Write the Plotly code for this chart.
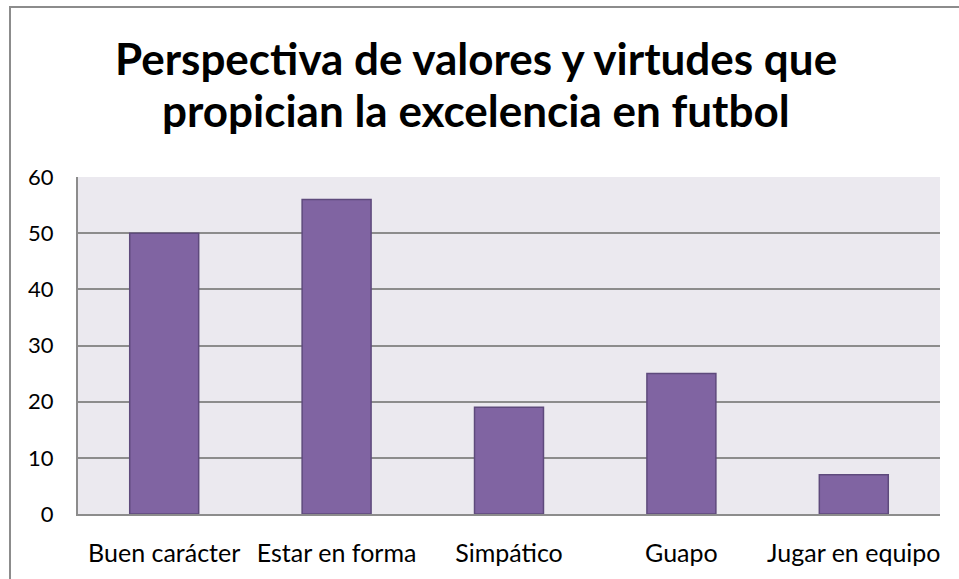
import plotly.graph_objects as go

categories = ["Buen carácter", "Estar en forma", "Simpático", "Guapo", "Jugar en equipo"]
values = [50, 56, 19, 25, 7]
y_ticks = [0, 10, 20, 30, 40, 50, 60]
title_lines = ["Perspectiva de valores y virtudes que", "propician la excelencia en futbol"]

FONT = "Lato"
W, H = 959, 579
ml, mr, mt, mb = 78, 19, 177, 63
pw, ph = W - ml - mr, H - mt - mb


def py(pix):
    """pixel row -> paper y"""
    return (mt + ph - pix) / ph


def px(pix):
    return (pix - ml) / pw


fig = go.Figure(go.Bar(
    x=categories, y=values, width=0.4,
    marker=dict(color="#8064A2", line=dict(color="#5E4A7C", width=1.5)),
))

# outer chart border (left/top visible, right/bottom clipped as in reference)
fig.add_shape(type="rect", xref="paper", yref="paper",
              x0=px(10), x1=px(W + 5), y0=py(H + 5), y1=py(6),
              line=dict(color="#8C8C8C", width=2), fillcolor="rgba(0,0,0,0)", layer="below")

for line, ypix in zip(title_lines, [57, 110]):
    fig.add_annotation(text=line, xref="paper", yref="paper", x=px(476), y=py(ypix),
                       xanchor="center", yanchor="middle", showarrow=False,
                       font=dict(family=FONT, size=44, color="black", weight="bold"))

fig.update_layout(
    width=W, height=H,
    margin=dict(l=ml, r=mr, t=mt, b=mb),
    paper_bgcolor="white", plot_bgcolor="#EBE9EF",
    showlegend=False,
    font=dict(family=FONT, color="black"),
    xaxis=dict(showgrid=False, showline=True, linecolor="#8C8C8C", linewidth=2,
               ticks="", tickfont=dict(size=25, family=FONT), ticklabelstandoff=16),
    yaxis=dict(range=[0, 60], tickvals=y_ticks, showgrid=True, gridcolor="#8C8C8C", gridwidth=2,
               showline=True, linecolor="#8C8C8C", linewidth=2, zeroline=False,
               ticks="", tickfont=dict(size=22, family=FONT), ticklabelstandoff=18),
)

fig.write_html("out.html", config={"displayModeBar": False},
               post_script="document.body.style.margin='0';document.body.style.padding='0';")
